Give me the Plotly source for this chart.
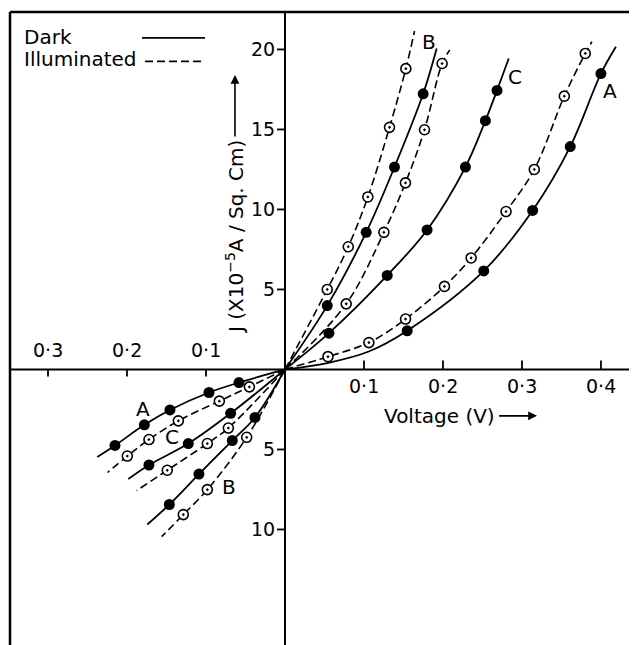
import plotly.graph_objects as go

# ---------------- data ----------------
# forward bias (V > 0), J in 1e-5 A / sq.cm
dark_A_v = [0.1547, 0.2516, 0.3135, 0.3611, 0.3999]
dark_A_j = [2.42, 6.16, 9.94, 13.93, 18.49]
ill_A_v = [0.0544, 0.1062, 0.1526, 0.2019, 0.2356, 0.2798, 0.3156, 0.3536, 0.3801]
ill_A_j = [0.80, 1.68, 3.15, 5.19, 6.97, 9.87, 12.5, 17.08, 19.75]
dark_B_v = [0.0535, 0.1028, 0.1386, 0.1749]
dark_B_j = [3.99, 8.57, 12.65, 17.23]
ill_B_v = [0.0535, 0.0801, 0.1049, 0.1323, 0.1530]
ill_B_j = [5.00, 7.67, 10.78, 15.13, 18.80]
dark_C_v = [0.0556, 0.1294, 0.1799, 0.2284, 0.2537, 0.2684]
dark_C_j = [2.27, 5.88, 8.72, 12.65, 15.55, 17.44]
ill_C_v = [0.0775, 0.1252, 0.1525, 0.1766, 0.1989]
ill_C_j = [4.10, 8.57, 11.66, 14.98, 19.12]

# reverse bias (V < 0)
dark_Ar_v = [-0.0582, -0.0962, -0.1456, -0.1780, -0.2152]
dark_Ar_j = [-0.82, -1.44, -2.53, -3.46, -4.75]
ill_Ar_v = [-0.0451, -0.0831, -0.1350, -0.1722, -0.1996]
ill_Ar_j = [-1.09, -1.98, -3.21, -4.38, -5.41]
dark_Cr_v = [-0.0688, -0.1224, -0.1722]
dark_Cr_j = [-2.74, -4.63, -5.97]
ill_Cr_v = [-0.0717, -0.0983, -0.1490]
ill_Cr_j = [-3.66, -4.63, -6.30]
dark_Br_v = [-0.0380, -0.0667, -0.1089, -0.1464]
dark_Br_j = [-3.00, -4.44, -6.54, -8.44]
ill_Br_v = [-0.0485, -0.0983, -0.1287]
ill_Br_j = [-4.24, -7.51, -9.07]

# drawn curve paths beyond the markers (start / extra / end points)
dark_A_path_v = [0.0, 0.0535, 0.106] + dark_A_v + [0.4189]
dark_A_path_j = [0.0, 0.40, 1.12] + dark_A_j + [20.17]
ill_A_path_v = [0.0] + ill_A_v + [0.3885]
ill_A_path_j = [0.0] + ill_A_j + [20.48]
dark_B_path_v = [0.0] + dark_B_v + [0.1920]
dark_B_path_j = [0.0] + dark_B_j + [20.06]
ill_B_path_v = [0.0] + ill_B_v + [0.1640]
ill_B_path_j = [0.0] + ill_B_j + [21.15]
dark_C_path_v = [0.0] + dark_C_v + [0.2832]
dark_C_path_j = [0.0] + dark_C_j + [19.43]
ill_C_path_v = [0.0] + ill_C_v + [0.2086]
ill_C_path_j = [0.0] + ill_C_j + [19.96]
dark_Ar_path_v = [0.0] + dark_Ar_v + [-0.2376]
dark_Ar_path_j = [0.0] + dark_Ar_j + [-5.47]
ill_Ar_path_v = [0.0] + ill_Ar_v + [-0.2245]
ill_Ar_path_j = [0.0] + ill_Ar_j + [-6.44]
dark_Cr_path_v = [0.0] + dark_Cr_v + [-0.1983]
dark_Cr_path_j = [0.0] + dark_Cr_j + [-6.85]
ill_Cr_path_v = [0.0] + ill_Cr_v + [-0.1878]
ill_Cr_path_j = [0.0] + ill_Cr_j + [-7.57]
dark_Br_path_v = [0.0] + dark_Br_v + [-0.1743]
dark_Br_path_j = [0.0] + dark_Br_j + [-9.69]
ill_Br_path_v = [0.0] + ill_Br_v + [-0.1561]
ill_Br_path_j = [0.0] + ill_Br_j + [-10.45]

# axis ticks
xt_pos = [0.1, 0.2, 0.3, 0.4]
xt_pos_lab = ["0·1", "0·2", "0·3", "0·4"]
xt_neg = [-0.1, -0.2, -0.3]
xt_neg_lab = ["0·1", "0·2", "0·3"]
yt_pos = [5, 10, 15, 20]
yt_pos_lab = ["5", "10", "15", "20"]
yt_neg = [-5, -10]
yt_neg_lab = ["5", "10"]

# curve labels
lab_text = ["B", "C", "A", "A", "C", "B"]
lab_v = [0.182, 0.291, 0.411, -0.180, -0.143, -0.071]
lab_j = [20.45, 18.28, 17.40, -2.47, -4.22, -7.34]

# ---------------- figure ----------------
FONT = "DejaVu Sans"
fig = go.Figure()

dark_sets = [
    (dark_A_path_v, dark_A_path_j, dark_A_v, dark_A_j),
    (dark_B_path_v, dark_B_path_j, dark_B_v, dark_B_j),
    (dark_C_path_v, dark_C_path_j, dark_C_v, dark_C_j),
    (dark_Ar_path_v, dark_Ar_path_j, dark_Ar_v, dark_Ar_j),
    (dark_Cr_path_v, dark_Cr_path_j, dark_Cr_v, dark_Cr_j),
    (dark_Br_path_v, dark_Br_path_j, dark_Br_v, dark_Br_j),
]
ill_sets = [
    (ill_A_path_v, ill_A_path_j, ill_A_v, ill_A_j),
    (ill_B_path_v, ill_B_path_j, ill_B_v, ill_B_j),
    (ill_C_path_v, ill_C_path_j, ill_C_v, ill_C_j),
    (ill_Ar_path_v, ill_Ar_path_j, ill_Ar_v, ill_Ar_j),
    (ill_Cr_path_v, ill_Cr_path_j, ill_Cr_v, ill_Cr_j),
    (ill_Br_path_v, ill_Br_path_j, ill_Br_v, ill_Br_j),
]

for pv, pj, mv, mj in dark_sets:
    fig.add_trace(go.Scatter(x=pv, y=pj, mode="lines",
                             line=dict(color="black", width=1.8, shape="spline", smoothing=1.0),
                             showlegend=False, hoverinfo="skip"))
    fig.add_trace(go.Scatter(x=mv, y=mj, mode="markers",
                             marker=dict(symbol="circle", size=11, color="black"),
                             showlegend=False))

for pv, pj, mv, mj in ill_sets:
    fig.add_trace(go.Scatter(x=pv, y=pj, mode="lines",
                             line=dict(color="black", width=1.6, dash="8px,4px",
                                       shape="spline", smoothing=1.0),
                             showlegend=False, hoverinfo="skip"))
    fig.add_trace(go.Scatter(x=mv, y=mj, mode="markers",
                             marker=dict(symbol="circle-dot", size=10, color="white",
                                         line=dict(color="black", width=1.6)),
                             showlegend=False))

shapes = []
# axes through origin
shapes.append(dict(type="line", xref="paper", yref="y", x0=0, x1=1, y0=0, y1=0,
                   line=dict(color="black", width=2)))
shapes.append(dict(type="line", xref="x", yref="paper", x0=0, x1=0, y0=0, y1=1,
                   line=dict(color="black", width=2)))
# frame: top and left
shapes.append(dict(type="line", xref="paper", yref="paper", x0=0, x1=1, y0=1, y1=1,
                   line=dict(color="black", width=2.5)))
shapes.append(dict(type="line", xref="paper", yref="paper", x0=0, x1=0, y0=0, y1=1,
                   line=dict(color="black", width=2.5)))
# ticks
for v in xt_pos:
    shapes.append(dict(type="line", xref="x", yref="y", ysizemode="pixel", yanchor=0,
                       x0=v, x1=v, y0=0, y1=9, line=dict(color="black", width=1.8)))
for v in xt_neg:
    shapes.append(dict(type="line", xref="x", yref="y", ysizemode="pixel", yanchor=0,
                       x0=v, x1=v, y0=0, y1=-7, line=dict(color="black", width=1.8)))
for j in yt_pos + yt_neg:
    shapes.append(dict(type="line", xref="x", yref="y", xsizemode="pixel", xanchor=0,
                       x0=-8, x1=0, y0=j, y1=j, line=dict(color="black", width=1.8)))

annotations = []
tf = dict(family=FONT, size=19, color="black")
for v, t in zip(xt_pos, xt_pos_lab):
    annotations.append(dict(x=v, y=0, xref="x", yref="y", text=t, showarrow=False,
                            yanchor="middle", yshift=-17, font=tf))
for v, t in zip(xt_neg, xt_neg_lab):
    annotations.append(dict(x=v, y=0, xref="x", yref="y", text=t, showarrow=False,
                            yanchor="middle", yshift=19, font=tf))
for j, t in zip(yt_pos + yt_neg, yt_pos_lab + yt_neg_lab):
    annotations.append(dict(x=0, y=j, xref="x", yref="y", text=t, showarrow=False,
                            xanchor="right", yanchor="middle", xshift=-8, font=tf))
for t, v, j in zip(lab_text, lab_v, lab_j):
    annotations.append(dict(x=v, y=j, xref="x", yref="y", text=t, showarrow=False,
                            xanchor="center", yanchor="middle",
                            font=dict(family=FONT, size=20, color="black")))

# axis titles, with their arrows (arrow drawn from the text to the head point)
annotations.append(dict(x=0.319, y=-2.9, xref="x", yref="y", text="Voltage (V)",
                        showarrow=True, ax=-97, ay=0, axref="pixel", ayref="pixel",
                        arrowhead=2, arrowsize=1.1, arrowwidth=1.6, arrowcolor="black",
                        standoff=0, startstandoff=2,
                        font=dict(family=FONT, size=20, color="black")))
annotations.append(dict(x=-0.0633, y=18.4, xref="x", yref="y",
                        text="J (X10<sup>−5</sup>A / Sq. Cm)", textangle=-90,
                        showarrow=True, ax=0, ay=162, axref="pixel", ayref="pixel",
                        arrowhead=2, arrowsize=1.1, arrowwidth=1.6, arrowcolor="black",
                        standoff=0, startstandoff=2,
                        font=dict(family=FONT, size=20, color="black")))

# legend (drawn as text + line samples)
annotations.append(dict(x=0.019, y=0.9605, xref="paper", yref="paper", text="Dark",
                        showarrow=False, xanchor="left", yanchor="middle",
                        font=dict(family=FONT, size=20, color="black")))
annotations.append(dict(x=0.019, y=0.9257, xref="paper", yref="paper", text="Illuminated",
                        showarrow=False, xanchor="left", yanchor="middle",
                        font=dict(family=FONT, size=20, color="black")))
shapes.append(dict(type="line", xref="paper", yref="paper", x0=0.2105, x1=0.311,
                   y0=0.959, y1=0.959, line=dict(color="black", width=1.8)))
shapes.append(dict(type="line", xref="paper", yref="paper", x0=0.2153, x1=0.308,
                   y0=0.922, y1=0.922, line=dict(color="black", width=1.6, dash="8px,4px")))

# page body has an 8px margin: the figure is sized/offset so the plot sits at the reference position
fig.update_layout(
    width=629, height=637,
    margin=dict(l=2, r=0, t=4, b=0),
    paper_bgcolor="white", plot_bgcolor="white",
    xaxis=dict(range=[-0.3481, 0.4456], visible=False, fixedrange=True),
    yaxis=dict(range=[-17.22, 22.34], visible=False, fixedrange=True),
    shapes=shapes, annotations=annotations,
    font=dict(family=FONT, color="black"),
    showlegend=False,
)

fig.write_html("out.html")
